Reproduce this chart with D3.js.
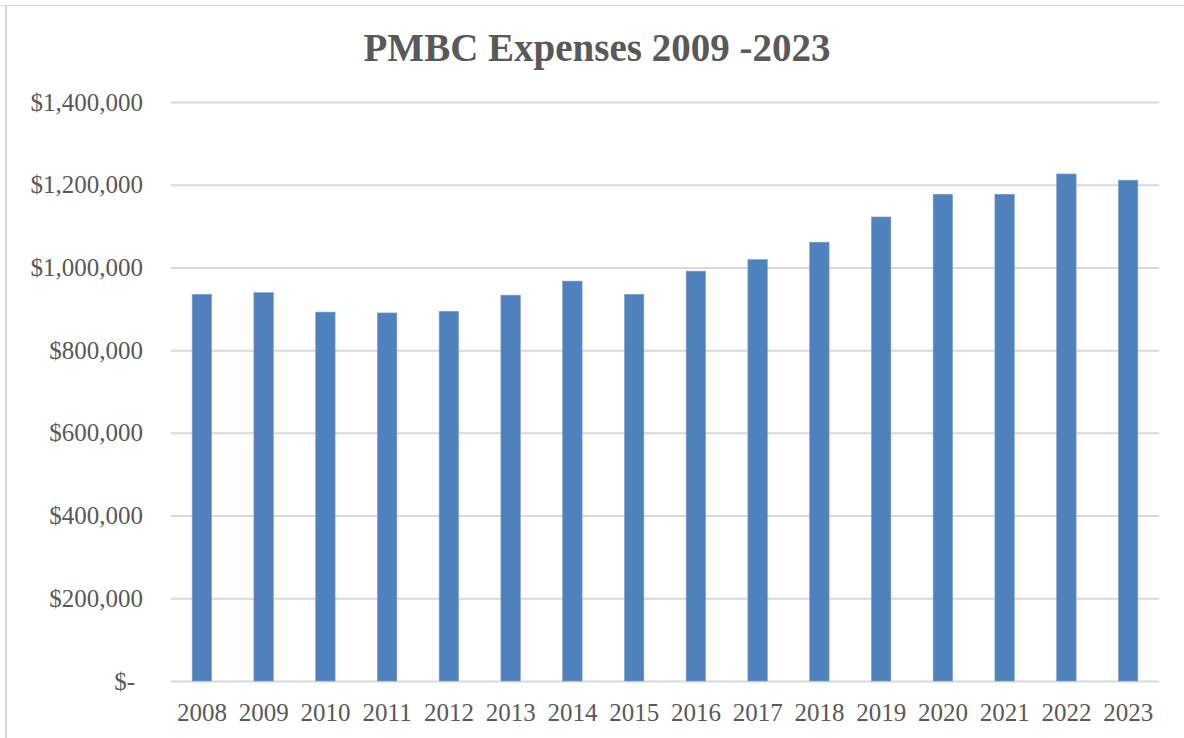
<!DOCTYPE html>
<html>
<head>
<meta charset="utf-8">
<script src="https://cdn.jsdelivr.net/npm/d3@7"></script>
<style>
  body { margin: 0; background: #fff; }
  svg text { font-family: "Liberation Serif", "DejaVu Serif", serif; fill: #595959; }
</style>
</head>
<body>
<svg id="svg" width="1184" height="738"></svg>
<script>
"use strict";

// chart data
const years = ["2008", "2009", "2010", "2011", "2012", "2013", "2014", "2015",
               "2016", "2017", "2018", "2019", "2020", "2021", "2022", "2023"];
const expenses = [935000, 939000, 892000, 890000, 894000, 933000, 967000, 935000,
                  991000, 1019000, 1061000, 1122000, 1177000, 1177000, 1226000, 1211000];
const yTicks = [0, 200000, 400000, 600000, 800000, 1000000, 1200000, 1400000];
const chartTitle = "PMBC Expenses 2009 -2023";

const svg = d3.select("#svg"),
	width = +svg.attr("width"),
	height = +svg.attr("height");

const plot = { left: 171, right: 1159, top: 102, bottom: 681 };

// frame lines of the chart area
svg.append("line")
	.attr("x1", 0).attr("x2", width)
	.attr("y1", 5.5).attr("y2", 5.5)
	.style("stroke", "#d9d9d9");
svg.append("line")
	.attr("x1", 6).attr("x2", 6)
	.attr("y1", 5).attr("y2", height)
	.style("stroke", "#d9d9d9")
	.style("stroke-width", 2);

svg.append("text")
	.attr("x", 597)
	.attr("y", 61)
	.attr("text-anchor", "middle")
	.style("font-size", "39px")
	.style("font-weight", "bold")
	.text(chartTitle);

let xScale = d3.scaleBand()
	.domain(years)
	.range([plot.left, plot.right])
	.paddingInner(0.685)
	.paddingOuter(0.3425);

let yScale = d3.scaleLinear()
	.domain([0, 1400000])
	.range([plot.bottom, plot.top]);

let fmt = d3.format("$,");

let yAxis = d3.axisLeft(yScale)
	.tickValues(yTicks)
	.tickSize(0)
	.tickPadding(28)
	.tickFormat(function(d) { return d === 0 ? "$-" : fmt(d); });

let gY = svg.append("g")
	.attr("class", "axis axis-y")
	.attr("transform", "translate(" + plot.left + ",0)")
	.call(yAxis);

gY.select(".domain").remove();
gY.selectAll(".tick line")
	.attr("x1", 0)
	.attr("x2", plot.right - plot.left)
	.style("stroke", "#d9d9d9")
	.style("stroke-width", 2);
gY.selectAll(".tick text")
	.style("font-size", "25px")
	.attr("fill", "#595959");

gY.selectAll(".tick text")
	.filter(function(d) { return d === 0; })
	.attr("x", -36);

let xAxis = d3.axisBottom(xScale)
	.tickSize(0)
	.tickPadding(22);

let gX = svg.append("g")
	.attr("class", "axis axis-x")
	.attr("transform", "translate(0," + plot.bottom + ")")
	.call(xAxis);

gX.select(".domain").remove();
gX.selectAll(".tick text")
	.style("font-size", "25px")
	.attr("fill", "#595959");

svg.selectAll("rect.bar")
	.data(expenses)
	.enter()
	.append("rect")
	.attr("class", "bar")
	.attr("x", function(d, i) { return xScale(years[i]); })
	.attr("y", function(d) { return yScale(d); })
	.attr("width", xScale.bandwidth())
	.attr("height", function(d) { return plot.bottom - yScale(d); })
	.style("fill", "#4f81bd")
	.style("stroke", "#7ea1cf")
	.style("stroke-width", 0.6);
</script>
</body>
</html>
